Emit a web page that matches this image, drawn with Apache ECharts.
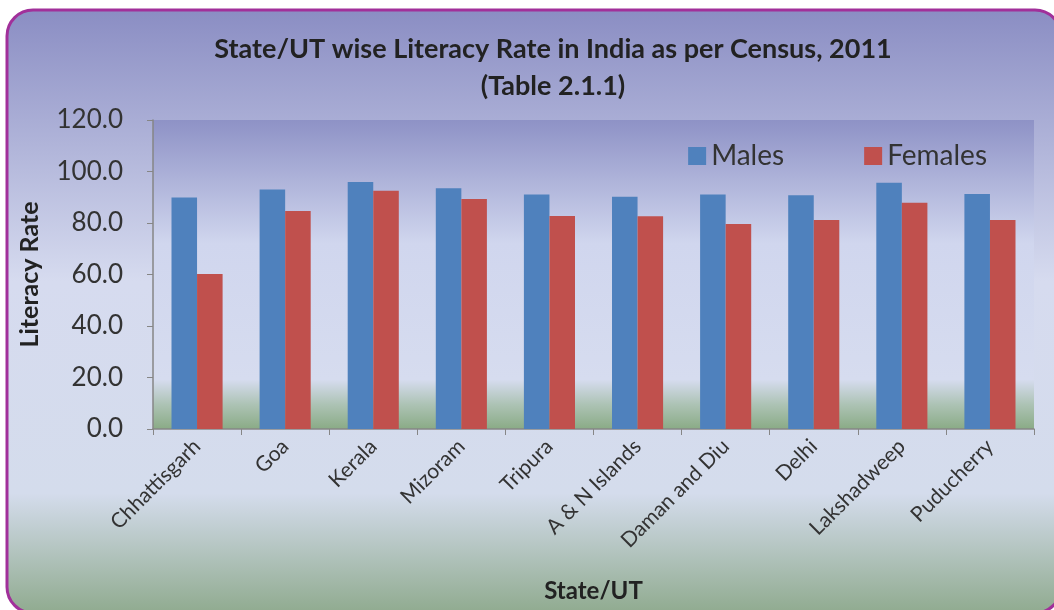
<!DOCTYPE html>
<html>
<head>
<meta charset="utf-8">
<title>Literacy Rate</title>
<script src="https://cdn.jsdelivr.net/npm/echarts@6/dist/echarts.min.js"></script>
<style>
  html, body { margin: 0; padding: 0; background: #fff; }
  #chart { width: 1054px; height: 610px; }
</style>
</head>
<body>
<div id="chart"></div>
<script>
var states = ['Chhattisgarh', 'Goa', 'Kerala', 'Mizoram', 'Tripura', 'A & N Islands',
    'Daman and Diu', 'Delhi', 'Lakshadweep', 'Puducherry'];
var males = [89.9, 93.0, 95.9, 93.5, 91.1, 90.2, 91.1, 90.8, 95.6, 91.3];
var females = [60.2, 84.7, 92.5, 89.3, 82.7, 82.6, 79.6, 81.2, 87.9, 81.2];
var seriesNames = ['Males', 'Females'];

var FONT = 'Lato';

var chart = echarts.init(document.getElementById('chart'));

var option = {
    animation: false,
    textStyle: { fontFamily: FONT },
    graphic: [{
        type: 'rect',
        z: -10,
        shape: { x: 7, y: 10, width: 1054, height: 603, r: 26 },
        style: {
            stroke: '#a1309a',
            lineWidth: 3,
            fill: new echarts.graphic.LinearGradient(0, 0, 0, 1, [
                { offset: 0, color: '#8a8dc3' },
                { offset: 0.45, color: '#d6dbef' },
                { offset: 0.8, color: '#d4dcec' },
                { offset: 1, color: '#8faa8e' }
            ])
        }
    }],
    title: {
        text: 'State/UT wise Literacy Rate in India as per Census, 2011\n(Table 2.1.1)',
        left: 548,
        textAlign: 'center',
        top: 26,
        textStyle: {
            fontFamily: FONT,
            fontSize: 27,
            fontWeight: 'bold',
            color: '#222',
            lineHeight: 37
        }
    },
    legend: {
        data: seriesNames,
        right: 62,
        top: 137,
        itemWidth: 18,
        itemHeight: 18,
        itemGap: 80,
        icon: 'rect',
        textStyle: { fontFamily: FONT, fontSize: 28, color: '#333' }
    },
    grid: {
        left: 153,
        right: 20,
        top: 120,
        bottom: 181,
        outerBoundsMode: 'none',
        containLabel: false,
        show: true,
        borderWidth: 0,
        backgroundColor: new echarts.graphic.LinearGradient(0, 0, 0, 1, [
            { offset: 0, color: '#8e92c6' },
            { offset: 0.4, color: '#d0d6ee' },
            { offset: 0.84, color: '#d6dcef' },
            { offset: 0.92, color: '#adc3b5' },
            { offset: 1, color: '#8aab86' }
        ])
    },
    xAxis: {
        type: 'category',
        data: states,
        name: 'State/UT',
        nameLocation: 'middle',
        nameGap: 150,
        nameTextStyle: { fontFamily: FONT, fontSize: 24, fontWeight: 'bold', color: '#222' },
        axisLine: { lineStyle: { color: '#868686', width: 1.5 } },
        axisTick: { show: true, length: 6, lineStyle: { color: '#868686' } },
        axisLabel: {
            rotate: 45,
            margin: 14,
            fontFamily: FONT,
            fontSize: 21,
            color: '#333',
            interval: 0
        }
    },
    yAxis: {
        type: 'value',
        min: 0,
        max: 120,
        interval: 20,
        name: 'Literacy Rate',
        nameLocation: 'middle',
        nameGap: 111,
        nameTextStyle: { fontFamily: FONT, fontSize: 25, fontWeight: 'bold', color: '#222' },
        axisLine: { show: true, lineStyle: { color: '#868686', width: 1.5 } },
        axisTick: { show: true, length: 6, lineStyle: { color: '#868686' } },
        splitLine: { show: false },
        axisLabel: {
            margin: 30,
            fontFamily: FONT,
            fontSize: 26,
            color: '#333',
            formatter: function (val) {
                return val.toFixed(1);
            }
        }
    },
    series: [{
        name: seriesNames[0],
        type: 'bar',
        data: males,
        barGap: 0,
        barCategoryGap: '42%',
        itemStyle: { color: '#4f81bd' }
    }, {
        name: seriesNames[1],
        type: 'bar',
        data: females,
        barGap: 0,
        barCategoryGap: '42%',
        itemStyle: { color: '#c0504d' }
    }]
};

chart.setOption(option);
</script>
</body>
</html>
